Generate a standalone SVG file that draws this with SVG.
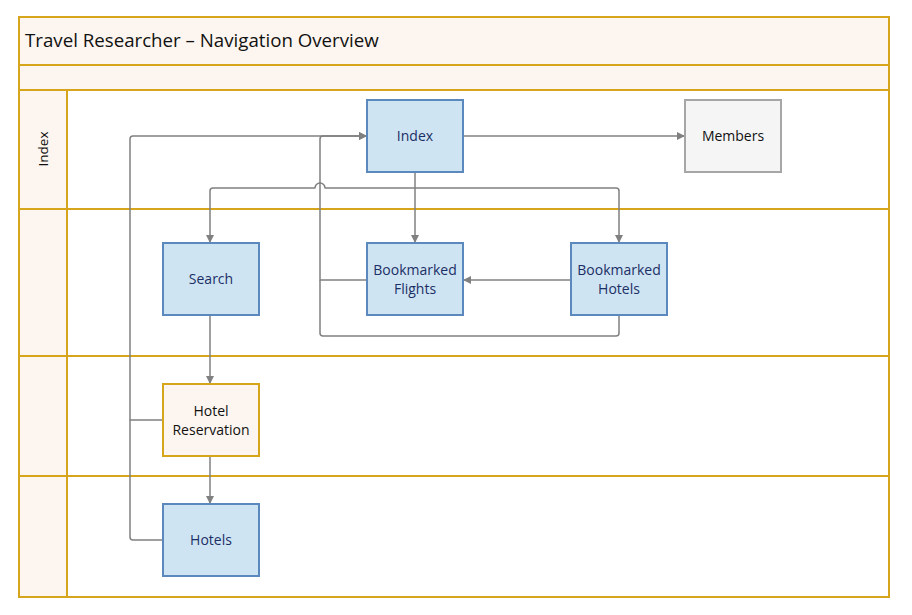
<svg xmlns="http://www.w3.org/2000/svg" width="912" height="615" viewBox="0 0 912 615">
<defs>
<style>
.lane{fill:none;stroke:#d6a51c;stroke-width:2}
.hdr{fill:#fdf6f0;stroke:#d6a51c;stroke-width:2}
.blue{fill:#cfe4f2;stroke:#5b88bd;stroke-width:2}
.gray{fill:#f5f5f5;stroke:#a6a6a6;stroke-width:2}
.org{fill:#fdf6f0;stroke:#d6a51c;stroke-width:2}
.t{font-family:"Open Sans","Liberation Sans",sans-serif;font-size:14px;text-anchor:middle}
.tb{fill:#1b2f66}
.tk{fill:#111}
.c{fill:none;stroke:#808080;stroke-width:1.5;stroke-linejoin:round}
</style>
<marker id="ah" viewBox="0 0 10 10" refX="10" refY="5" markerWidth="8" markerHeight="8" markerUnits="userSpaceOnUse" orient="auto">
<path d="M0,0 L10,5 L0,10 z" fill="#808080"/>
</marker>
</defs>
<rect width="912" height="615" fill="#fff"/>
<g id="pool">
<rect class="hdr" x="19" y="17" width="870" height="48"/>
<rect class="hdr" x="19" y="65" width="870" height="25"/>
<rect class="hdr" x="19" y="90" width="48" height="507"/>
<rect class="lane" x="67" y="90" width="822" height="119"/>
<rect class="lane" x="67" y="209" width="822" height="147"/>
<rect class="lane" x="67" y="356" width="822" height="120"/>
<rect class="lane" x="67" y="476" width="822" height="121"/>
<rect class="lane" x="19" y="17" width="870" height="580"/>
<line class="lane" x1="19" y1="209" x2="67" y2="209"/>
<line class="lane" x1="19" y1="356" x2="67" y2="356"/>
<line class="lane" x1="19" y1="476" x2="67" y2="476"/>
<text x="25" y="47" style="font-family:'Open Sans','Liberation Sans',sans-serif;font-size:18.7px;fill:#111">Travel Researcher – Navigation Overview</text>
<text transform="translate(48,149) rotate(-90)" class="t tk" style="font-size:13.5px">Index</text>
</g>
<g id="connectors">
<path class="c" d="M463,136 H685" marker-end="url(#ah)"/>
<path class="c" d="M415,172 V243" marker-end="url(#ah)"/>
<path class="c" d="M415,188 H616 Q619,188 619,191 V243" marker-end="url(#ah)"/>
<path class="c" d="M415,188 H325 A5,5 0 0 0 315,188 H213 Q210,188 210,191 V243" marker-end="url(#ah)"/>
<path class="c" d="M571,280 H463" marker-end="url(#ah)"/>
<path class="c" d="M367,280 H320 V139 Q320,136 323,136 H367" marker-end="url(#ah)"/>
<path class="c" d="M619,315 V333 Q619,336 616,336 H323 Q320,336 320,333 V280"/>
<path class="c" d="M163,420 H130 V139 Q130,136 133,136 H367" marker-end="url(#ah)"/>
<path class="c" d="M163,540 H133 Q130,540 130,537 V420"/>
<path class="c" d="M210,315 V384" marker-end="url(#ah)"/>
<path class="c" d="M210,456 V504" marker-end="url(#ah)"/>
</g>
<g id="n-index"><rect class="blue" x="367" y="100" width="96" height="72"/><text class="t tb" x="415" y="141">Index</text></g>
<g id="n-members"><rect class="gray" x="685" y="100" width="96" height="72"/><text class="t tk" x="733" y="141">Members</text></g>
<g id="n-search"><rect class="blue" x="163" y="243" width="96" height="72"/><text class="t tb" x="211" y="284">Search</text></g>
<g id="n-bflights"><rect class="blue" x="367" y="243" width="96" height="72"/><text class="t tb" x="415" y="275">Bookmarked</text><text class="t tb" x="415" y="294">Flights</text></g>
<g id="n-bhotels"><rect class="blue" x="571" y="243" width="96" height="72"/><text class="t tb" x="619" y="275">Bookmarked</text><text class="t tb" x="619" y="294">Hotels</text></g>
<g id="n-hres"><rect class="org" x="163" y="384" width="96" height="72"/><text class="t tk" x="211" y="416">Hotel</text><text class="t tk" x="211" y="435">Reservation</text></g>
<g id="n-hotels"><rect class="blue" x="163" y="504" width="96" height="72"/><text class="t tb" x="211" y="545">Hotels</text></g>
</svg>
